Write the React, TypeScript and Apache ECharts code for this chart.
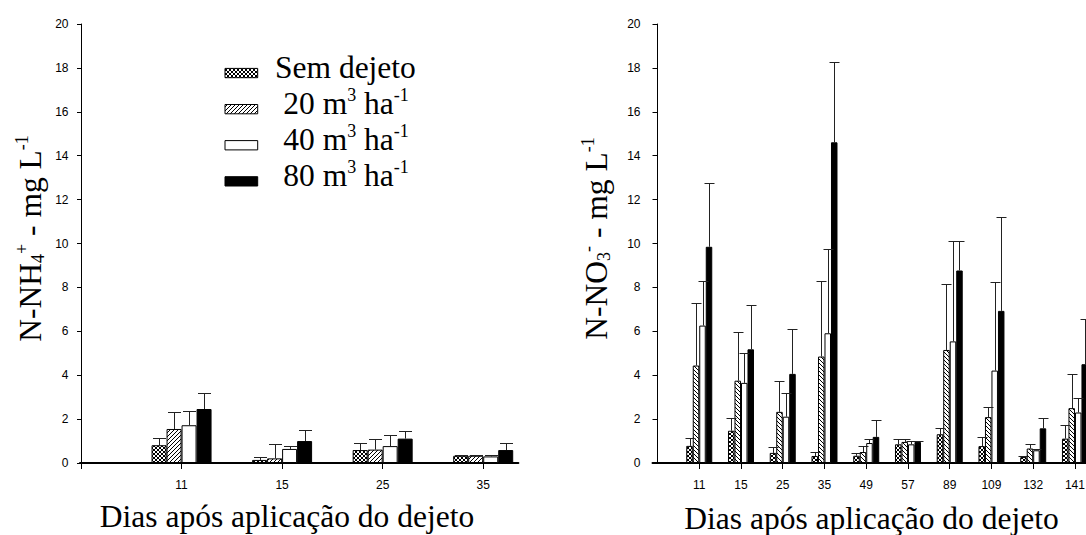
import React, { useEffect, useRef } from "react";
import * as echarts from "echarts";

// ---------- data ----------
const treatmentNames = ["Sem dejeto", "20 m3 ha-1", "40 m3 ha-1", "80 m3 ha-1"];
const legendRichText = [
  "{n|Sem dejeto}",
  "{n|20 m}{sup|3}{n|\u00a0ha}{sup|-1}",
  "{n|40 m}{sup|3}{n|\u00a0ha}{sup|-1}",
  "{n|80 m}{sup|3}{n|\u00a0ha}{sup|-1}",
];

// Left panel: N-NH4+
const nhDays = ["11", "15", "25", "35"];
const nhSem = [0.81, 0.14, 0.59, 0.33];
const nh20 = [1.55, 0.21, 0.61, 0.33];
const nh40 = [1.72, 0.64, 0.77, 0.3];
const nh80 = [2.46, 1.0, 1.11, 0.59];
const nhSemSd = [0.31, 0.12, 0.32, 0.03];
const nh20Sd = [0.76, 0.64, 0.48, 0.02];
const nh40Sd = [0.66, 0.13, 0.51, 0.08];
const nh80Sd = [0.72, 0.49, 0.33, 0.31];

// Right panel: N-NO3-
const noDays = ["11", "15", "25", "35", "49", "57", "89", "109", "132", "141"];
const noSem = [0.78, 1.47, 0.46, 0.32, 0.33, 0.85, 1.31, 0.77, 0.27, 1.11];
const no20 = [4.44, 3.75, 2.33, 4.85, 0.5, 0.96, 5.15, 2.09, 0.66, 2.5];
const no40 = [6.26, 3.65, 2.11, 5.91, 0.91, 0.85, 5.54, 4.21, 0.58, 2.3];
const no80 = [9.85, 5.18, 4.06, 14.61, 1.19, 0.96, 8.77, 6.93, 1.58, 4.5];
const noSemSd = [0.36, 0.6, 0.28, 0.18, 0.13, 0.26, 0.3, 0.4, 0.03, 0.6];
const no20Sd = [2.85, 2.22, 1.41, 3.45, 0.28, 0.12, 2.99, 0.44, 0.22, 1.54];
const no40Sd = [2.04, 1.37, 1.08, 3.82, 0.18, 0.17, 4.57, 4.05, 0.07, 0.68];
const no80Sd = [2.92, 2.04, 2.06, 3.68, 0.76, 0.04, 1.34, 4.26, 0.47, 2.04];

const yTicks = { min: 0, max: 20, interval: 2 };
const xTitle = "Dias após aplicação do dejeto";
const nhTitle = "{n|N-NH}{sub|4}{sup|+}{n|\u00a0-\u00a0mg L}{sup|-1}";
const noTitle = "{n|N-NO}{sub|3}{sup|-}{n|\u00a0-\u00a0mg L}{sup|-1}";

// ---------- styling helpers ----------
const SERIF = "'Liberation Serif', 'Times New Roman', serif";
const SANS = "'Liberation Sans', Arial, sans-serif";

function makePattern(kind: "cross" | "fwd" | "back", size = 4): string {
  const c = document.createElement("canvas");
  c.width = size;
  c.height = size;
  const ctx = c.getContext("2d")!;
  ctx.fillStyle = "#fff";
  ctx.fillRect(0, 0, size, size);
  ctx.fillStyle = "#000";
  for (let i = 0; i < size; i++) {
    if (kind === "fwd" || kind === "cross") ctx.fillRect(i, size - 1 - i, 1, 1);
    if (kind === "back" || kind === "cross") ctx.fillRect(i, i, 1, 1);
  }
  return c.toDataURL();
}

const titleRich: any = {
  n: { fontSize: 31.5, fontFamily: SERIF, lineHeight: 34, color: "#000" },
  sup: { fontSize: 18, fontFamily: SERIF, lineHeight: 13.6, verticalAlign: "top", color: "#000" },
  sub: { fontSize: 18, fontFamily: SERIF, lineHeight: 16, verticalAlign: "bottom", color: "#000" },
};

export default function App() {
  const ref = useRef<HTMLDivElement>(null);

  useEffect(() => {
    if (!ref.current) return;
    const chart = echarts.init(ref.current, undefined, { renderer: "svg" });

    const pat = (k: "cross" | "fwd" | "back") => ({
      image: makePattern(k),
      repeat: "repeat",
      imageWidth: 4,
      imageHeight: 4,
    });
    const leftFills: any[] = [pat("cross"), pat("fwd"), "#fff", "#000"];
    const rightFills: any[] = [pat("cross"), pat("back"), "#fff", "#000"];

    const leftVals = [nhSem, nh20, nh40, nh80];
    const leftSds = [nhSemSd, nh20Sd, nh40Sd, nh80Sd];
    const rightVals = [noSem, no20, no40, no80];
    const rightSds = [noSemSd, no20Sd, no40Sd, no80Sd];

    const LBW = 15;
    const RBW = 6.5;

    const bar = (name: string, vals: number[], axis: number, fill: any, bw: number) => ({
      type: "bar",
      name,
      xAxisIndex: axis,
      yAxisIndex: axis,
      data: vals.map((v, i) => [i + 1, v]),
      barWidth: bw,
      barGap: "0%",
      silent: true,
      itemStyle: { color: fill, borderColor: "#000", borderWidth: 1 },
      z: 2,
    });

    const err = (vals: number[], sds: number[], idx: number, axis: number, bw: number, cap: number) => ({
      type: "custom",
      xAxisIndex: axis,
      yAxisIndex: axis,
      silent: true,
      z: 3,
      data: vals.map((v, i) => [i + 1, v, v + sds[i]]),
      renderItem: (_p: any, api: any) => {
        const base = api.coord([api.value(0), api.value(1)]);
        const top = api.coord([api.value(0), api.value(2)]);
        const x = Math.round(base[0] + (idx - 1.5) * bw) + 0.5;
        const yt = Math.round(top[1]) + 0.5;
        const st = { stroke: "#222", lineWidth: 1 };
        return {
          type: "group",
          children: [
            { type: "line", shape: { x1: x, y1: base[1], x2: x, y2: yt }, style: st },
            { type: "line", shape: { x1: x - cap / 2, y1: yt, x2: x + cap / 2, y2: yt }, style: st },
          ],
        };
      },
    });

    const series: any[] = [];
    treatmentNames.forEach((n, i) => series.push(bar(n, leftVals[i], 0, leftFills[i], LBW)));
    treatmentNames.forEach((n, i) => series.push(bar(n, rightVals[i], 1, rightFills[i], RBW)));
    treatmentNames.forEach((_n, i) => series.push(err(leftVals[i], leftSds[i], i, 0, LBW, 13)));
    treatmentNames.forEach((_n, i) => series.push(err(rightVals[i], rightSds[i], i, 1, RBW, 10)));

    const xAxisBase = (days: string[], min: number, max: number, ticksAtZero: boolean) => {
      const pos = days.map((_d, i) => i + 1);
      return {
        type: "value",
        min,
        max,
        axisLine: { show: true, onZero: false, lineStyle: { color: "#000", width: 2 } },
        axisTick: {
          show: true,
          length: 6,
          lineStyle: { color: "#000", width: 1 },
          customValues: ticksAtZero ? [0, ...pos] : pos,
        },
        splitLine: { show: false },
        axisLabel: {
          customValues: pos,
          formatter: (v: number) => days[Math.round(v) - 1] ?? "",
          fontFamily: SANS,
          fontSize: 12,
          color: "#000",
          margin: 15.5,
        },
      };
    };

    const yAxisBase = (tickLen: number, margin: number) => ({
      type: "value",
      min: yTicks.min,
      max: yTicks.max,
      interval: yTicks.interval,
      axisLine: { show: true, lineStyle: { color: "#000", width: 1 } },
      axisTick: { show: true, length: tickLen, lineStyle: { color: "#000", width: 1 } },
      splitLine: { show: false },
      axisLabel: { fontFamily: SANS, fontSize: 12, color: "#000", margin },
    });

    const graphics: any[] = [];
    // legend
    treatmentNames.forEach((_n, i) => {
      const baseline = 77.7 + 36.1 * i;
      graphics.push({
        type: "rect",
        shape: { x: 225, y: baseline - 9.3, width: 32.7, height: 9.3 },
        style: { fill: leftFills[i], stroke: "#000", lineWidth: 1 },
        silent: true,
      });
      graphics.push({
        type: "text",
        x: i === 0 ? 275 : 283.3,
        y: baseline - 10.6,
        silent: true,
        style: {
          text: legendRichText[i],
          rich: titleRich,
          align: "left",
          verticalAlign: "middle",
          fill: "#000",
        },
      });
    });
    // axis titles
    graphics.push({
      type: "text",
      x: 30.2,
      y: 238.5,
      rotation: Math.PI / 2,
      silent: true,
      style: { text: nhTitle, rich: titleRich, align: "center", verticalAlign: "middle", fill: "#000" },
    });
    graphics.push({
      type: "text",
      x: 596.2,
      y: 238.5,
      rotation: Math.PI / 2,
      silent: true,
      style: { text: noTitle, rich: titleRich, align: "center", verticalAlign: "middle", fill: "#000" },
    });
    graphics.push({
      type: "text",
      x: 287,
      y: 516,
      silent: true,
      style: {
        text: xTitle,
        fontFamily: SERIF,
        fontSize: 31.5,
        align: "center",
        verticalAlign: "middle",
        fill: "#000",
      },
    });
    graphics.push({
      type: "text",
      x: 871.5,
      y: 518.8,
      silent: true,
      style: {
        text: xTitle,
        fontFamily: SERIF,
        fontSize: 31.5,
        align: "center",
        verticalAlign: "middle",
        fill: "#000",
      },
    });

    chart.setOption({
      animation: false,
      backgroundColor: "#fff",
      grid: [
        { left: 80, top: 24, width: 438.4, height: 439, containLabel: false },
        { left: 652.5, top: 24, width: 447.5, height: 439, containLabel: false },
      ],
      xAxis: [
        { ...xAxisBase(nhDays, -0.01, 4.35, true), gridIndex: 0 },
        { ...xAxisBase(noDays, -0.12, 10.6, false), gridIndex: 1 },
      ],
      yAxis: [
        { ...yAxisBase(4, 11.5), gridIndex: 0 },
        { ...yAxisBase(5, 12), gridIndex: 1 },
      ],
      series,
      graphic: graphics,
    });

    return () => chart.dispose();
  }, []);

  return (
    <div
      style={{
        position: "fixed",
        left: 0,
        top: 0,
        width: 1086,
        height: 535,
        overflow: "hidden",
        background: "#fff",
      }}
    >
      <div ref={ref} style={{ width: 1120, height: 535 }} />
    </div>
  );
}
